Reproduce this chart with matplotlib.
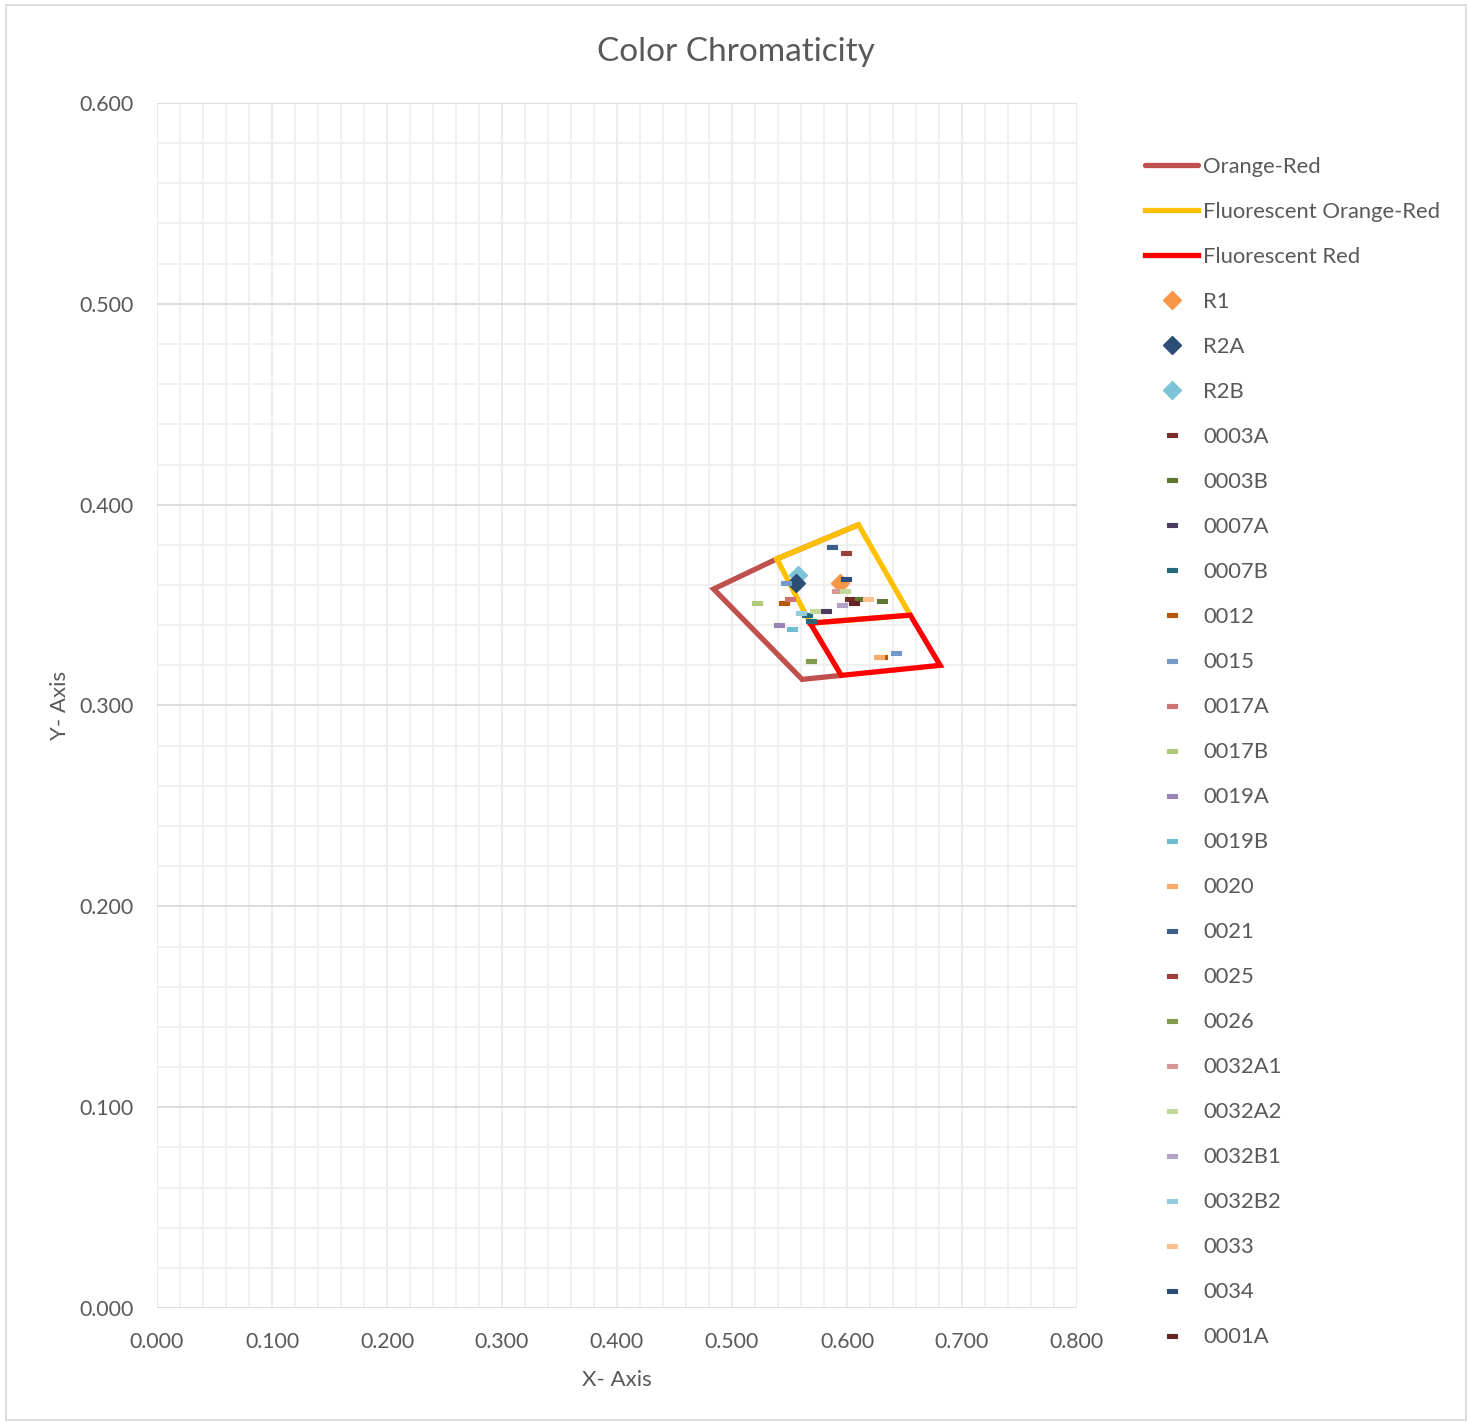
import matplotlib
matplotlib.use("Agg")
import matplotlib.pyplot as plt
from matplotlib.patches import Rectangle
from matplotlib.ticker import MultipleLocator, FormatStrFormatter

plt.rcParams['font.family'] = ['Lato', 'DejaVu Sans']

# Boundary polygons (x, y chromaticity)
orange_red_x = [0.595, 0.561, 0.484, 0.539, 0.610]
orange_red_y = [0.315, 0.313, 0.358, 0.373, 0.390]
fl_orange_red_x = [0.539, 0.610, 0.655, 0.568, 0.539]
fl_orange_red_y = [0.373, 0.390, 0.345, 0.341, 0.373]
fl_red_x = [0.568, 0.655, 0.681, 0.595, 0.568]
fl_red_y = [0.341, 0.345, 0.320, 0.315, 0.341]

# Reference samples (diamonds)
r1_x, r1_y = [0.594], [0.361]
r2a_x, r2a_y = [0.556], [0.361]
r2b_x, r2b_y = [0.557], [0.365]

# Measured samples (dash markers)
sample_names = ["0003A", "0003B", "0007A", "0007B", "0012", "0015", "0017A",
                "0017B", "0019A", "0019B", "0020", "0021", "0025", "0026",
                "0032A1", "0032A2", "0032B1", "0032B2", "0033", "0034", "0001A"]
sample_x = [[0.603], [0.611, 0.630], [0.582], [0.565, 0.569], [0.545, 0.630],
            [0.547, 0.643], [0.550], [0.522], [0.541], [0.552], [0.628],
            [0.587], [0.599], [0.569], [0.591], [0.598, 0.572], [0.596],
            [0.560], [0.618], [0.599], [0.606]]
sample_y = [[0.353], [0.353, 0.352], [0.347], [0.345, 0.342], [0.351, 0.324],
            [0.361, 0.326], [0.353], [0.351], [0.340], [0.338], [0.324],
            [0.379], [0.376], [0.322], [0.357], [0.357, 0.347], [0.350],
            [0.346], [0.353], [0.363], [0.351]]
sample_colors = ["#772C2A", "#5F7530", "#4D3B62", "#276A7C", "#B65708",
                 "#729ACA", "#CD7371", "#AFC97A", "#9983B5", "#6FBDD1",
                 "#F9AB6B", "#3A5F8B", "#9C3E3C", "#7F9A48", "#D99694",
                 "#C3D69B", "#B3A2C7", "#93CDDD", "#FAC090", "#2C4D75",
                 "#632523"]

text_color = "#595959"
dash = [(-1.0, -0.42), (1.0, -0.42), (1.0, 0.42), (-1.0, 0.42), (-1.0, -0.42)]

fig = plt.figure(figsize=(14.75, 14.22), dpi=100)
ax = fig.add_axes([157 / 1475, 1 - 1308 / 1422, 920 / 1475, 1205 / 1422])

lw = 3.8
ax.plot(orange_red_x, orange_red_y, color="#C0504D", lw=lw, label="Orange-Red",
        solid_capstyle="round", solid_joinstyle="miter", zorder=3)
ax.plot(fl_orange_red_x, fl_orange_red_y, color="#FFC000", lw=lw,
        label="Fluorescent Orange-Red", solid_joinstyle="miter", zorder=4)
ax.plot(fl_red_x, fl_red_y, color="#FF0000", lw=lw, label="Fluorescent Red",
        solid_joinstyle="miter", zorder=5)

ax.plot(r1_x, r1_y, ls="none", marker="D", ms=9.5, color="#F79646",
        mec="#F79646", label="R1", zorder=6)
ax.plot(r2a_x, r2a_y, ls="none", marker="D", ms=9.5, color="#2C4D75",
        mec="#2C4D75", label="R2A", zorder=7)
ax.plot(r2b_x, r2b_y, ls="none", marker="D", ms=9.5, color="#7EC4D8",
        mec="#7EC4D8", label="R2B", zorder=6.5)

for i, (name, xs, ys, c) in enumerate(zip(sample_names, sample_x, sample_y, sample_colors)):
    ax.plot(xs, ys, ls="none", marker=dash, ms=7.5, color=c, mec=c, mew=0.8,
            label=name, zorder=8 + i * 0.01)

ax.set_xlim(0, 0.8)
ax.set_ylim(0, 0.6)
ax.xaxis.set_major_locator(MultipleLocator(0.1))
ax.yaxis.set_major_locator(MultipleLocator(0.1))
ax.xaxis.set_minor_locator(MultipleLocator(0.02))
ax.yaxis.set_minor_locator(MultipleLocator(0.02))
ax.xaxis.set_major_formatter(FormatStrFormatter("%.3f"))
ax.yaxis.set_major_formatter(FormatStrFormatter("%.3f"))
ax.grid(which="minor", color="#EFEFEF", lw=1.3, zorder=0)
ax.grid(which="major", axis="x", color="#EAEAEA", lw=1.3, zorder=0)
ax.grid(which="major", axis="y", color="#D9D9D9", lw=1.3, zorder=0)
ax.set_axisbelow(True)
for s in ax.spines.values():
    s.set_visible(False)
ax.tick_params(which="both", length=0, labelsize=15.3, labelcolor=text_color)
ax.tick_params(axis="x", pad=17)
ax.tick_params(axis="y", pad=16.5)

ax.set_xlabel("X- Axis", fontsize=16, color=text_color, labelpad=13)
ax.set_ylabel("Y- Axis", fontsize=16, color=text_color, labelpad=7)
fig.text(736 / 1475, 1 - 52 / 1422, "Color Chromaticity", ha="center",
         va="center", fontsize=24, color=text_color)

handles, labels = ax.get_legend_handles_labels()
leg = fig.legend(handles, labels, loc="upper left",
                 bbox_to_anchor=(1145 / 1475, 1 - 157 / 1422),
                 frameon=False, fontsize=15.8, labelcolor=text_color,
                 handlelength=2.42, handletextpad=0.23, labelspacing=1.14,
                 numpoints=1, borderaxespad=0, borderpad=0)

fig.patches.append(Rectangle((6 / 1475, 1 - 1420 / 1422), 1460 / 1475, 1415 / 1422,
                             transform=fig.transFigure, fill=False,
                             edgecolor="#D9D9D9", lw=1.3))

fig.savefig("out.png", dpi=100, facecolor="white")
